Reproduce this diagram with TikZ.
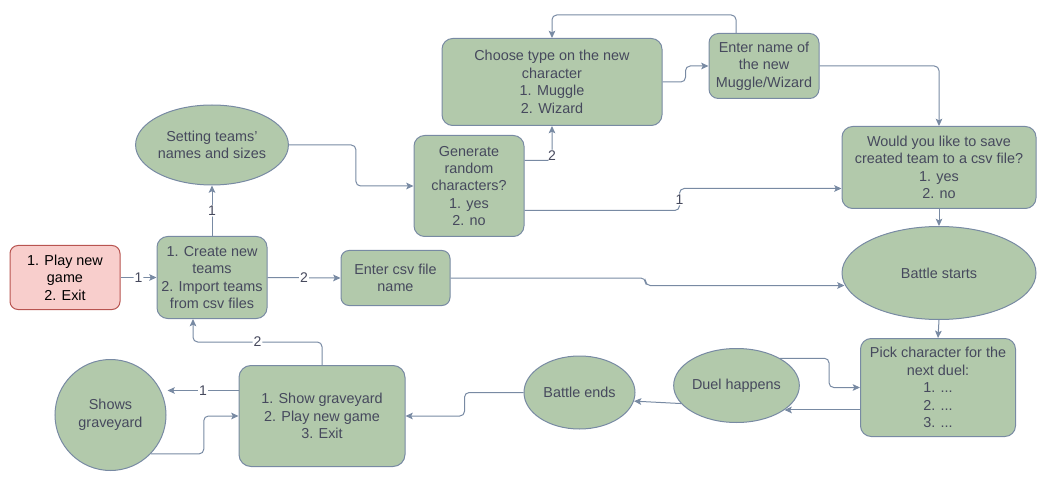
\documentclass[tikz,border=0pt]{standalone}
\usepackage{fontspec}
\setmainfont{Liberation Sans}
\usetikzlibrary{shapes.geometric,arrows.meta,calc}

\definecolor{boxgreen}{RGB}{178,201,171}
\definecolor{edgegray}{RGB}{120,138,163}
\definecolor{boxtext}{RGB}{70,73,93}
\definecolor{startfill}{RGB}{248,206,204}
\definecolor{startline}{RGB}{184,84,80}

\newcommand{\boxfont}{\fontsize{10.8}{13.1}\selectfont}
\newcommand{\numfont}{\fontsize{10.5}{12}\selectfont}

\tikzset{
  stepbox/.style={draw=edgegray, fill=boxgreen, text=boxtext, line width=0.75pt,
    rounded corners=8pt, align=center, inner sep=0pt, font=\boxfont},
  stepoval/.style={ellipse, draw=edgegray, fill=boxgreen, text=boxtext, line width=0.75pt,
    align=center, inner sep=0pt, font=\boxfont},
  link/.style={draw=edgegray, line width=0.75pt, rounded corners=3.5pt,
    -{Stealth[length=5.5pt,width=5pt,inset=1.2pt]}},
  num/.style={fill=white, text=boxtext, inner sep=0.8pt, font=\numfont}
}

\begin{document}
\begin{tikzpicture}[x=0.75pt,y=0.75pt,yscale=-1,xscale=1]
\path[use as bounding box] (0,0) rectangle (1043,481);

%Shape: Rounded Rectangle (start menu)
\node[stepbox, fill=startfill, draw=startline, text=black, rounded corners=6pt,
  minimum width=82.5pt, minimum height=48pt] (start) at (65,277.5) {1. Play new\\game\\2. Exit};
%Shape: Rounded Rectangle
\node[stepbox, minimum width=82.5pt, minimum height=61.5pt] (create) at (212,277.5) {1. Create new\\teams\\2. Import teams\\from csv files};
%Shape: Rounded Rectangle
\node[stepbox, rounded corners=6pt, minimum width=81.75pt, minimum height=41.25pt] (csv) at (395.5,278) {Enter csv file\\name};
%Shape: Ellipse
\node[stepoval, minimum width=103.5pt, minimum height=60pt] (teams) at (212,145) {Setting teams'\\names and sizes};
%Shape: Rounded Rectangle
\node[stepbox, minimum width=82.5pt, minimum height=75.75pt] (random) at (469,186) {Generate\\random\\characters?\\1. yes\\2. no};
%Shape: Rounded Rectangle
\node[stepbox, minimum width=165pt, minimum height=65.25pt] (type) at (552,82) {Choose type on the new\\character\\1. Muggle\\2. Wizard};
%Shape: Rounded Rectangle
\node[stepbox, rounded corners=7pt, minimum width=82.5pt, minimum height=48.75pt] (name) at (764,66) {Enter name of\\the new\\Muggle/Wizard};
%Shape: Rounded Rectangle
\node[stepbox, minimum width=145.5pt, minimum height=61.5pt] (save) at (939,167.5) {Would you like to save\\created team to a csv file?\\1. yes\\2. no};
%Shape: Ellipse
\node[stepoval, minimum width=145.5pt, minimum height=69.75pt] (battle) at (939,273) {Battle starts};
%Shape: Rounded Rectangle
\node[stepbox, minimum width=116.25pt, minimum height=73.5pt] (pick) at (938,387.5) {Pick character for the\\next duel:\\1. ...\\2. ...\\3. ...};
%Shape: Ellipse
\node[stepoval, minimum width=83.25pt, minimum height=55.5pt] (duel) at (736.5,385.5) {Duel happens};
%Shape: Ellipse
\node[stepoval, minimum width=83.25pt, minimum height=54.75pt] (ends) at (579.5,392.5) {Battle ends};
%Shape: Rounded Rectangle
\node[stepbox, rounded corners=9pt, minimum width=124.5pt, minimum height=75.75pt] (menu) at (322,416) {1. Show graveyard\\2. Play new game\\3. Exit};
%Shape: Circle
\node[stepoval, minimum width=83.25pt, minimum height=83.25pt] (grave) at (110.5,415) {Shows\\graveyard};

%Connectors
\draw[link] (start.east) -- node[num]{1} (create.west);
\draw[link] (create.north) -- node[num]{1} (teams.south);
\draw[link] (create.east) -- node[num]{2} (csv.west);
\draw[link] (teams.east) -- ++(67,0) |- (random.west);
\draw[link] ($(random.east)+(0,-25.5)$) -| node[num, pos=0.57]{2} (type.south);
\draw[link] ($(random.east)+(0,24.5)$) -- ++(155,0) -- node[num]{1} ++(0,-22) -- ($(save.west)+(0,21)$);
\draw[link] (type.east) -- ++(23,0) |- (name.west);
\draw[link] ($(name.north)+(-28,0)$) -- ++(0,-18) -| (type.north);
\draw[link] (name.east) -| (save.north);
\draw[link] (save.south) -- (battle.north);
\draw[link] (csv.east) -- ++(195,0) |- ($(battle.west)+(3,12.5)$);
\draw[link] (battle.south) -- (pick.north);
\draw[link] (duel.32) -- ++(49,0) |- (pick.west);
\draw[link] (duel.-27 -| pick.west) -- (duel.-27);
\draw[link] (duel.-162) -- (ends.-9);
\draw[link] (ends.west) -- ++(-59,0) |- (menu.east);
\draw[link] (menu.north) -- ++(0,-23) -| node[num, pos=0.25]{2} ($(create.south)+(-19,0)$);
\draw[link] ($(menu.west)+(0,-25.5)$) -- node[num]{1} ($(grave.east)+(1,-24.5)$);
\draw[link] (grave.-44) -- ++(53,0) |- (menu.west);

\end{tikzpicture}
\end{document}
